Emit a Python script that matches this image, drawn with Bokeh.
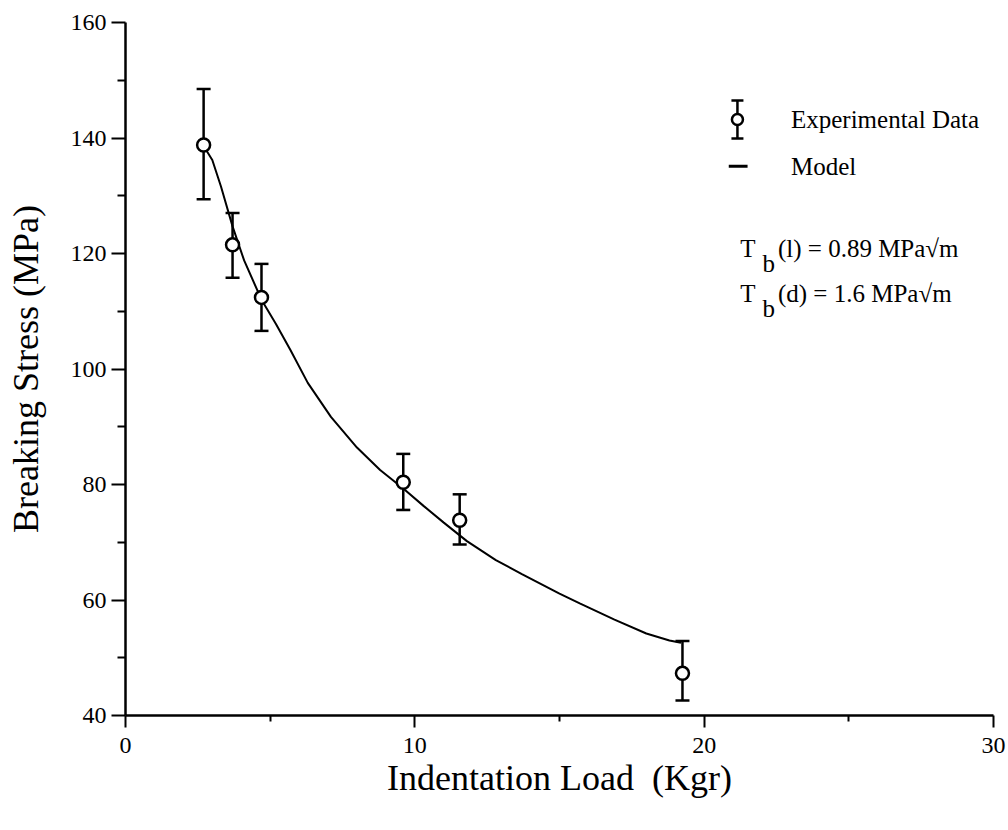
from bokeh.plotting import figure
from bokeh.models import Range1d, FixedTicker
from bokeh.core.properties import value
from bokeh.embed import file_html
from bokeh.resources import INLINE

# Measured breaking stress (MPa) against indentation load (Kgr), with error bars
load = [2.7, 3.7, 4.7, 9.6, 11.55, 19.25]
stress = [138.8, 121.5, 112.4, 80.4, 73.8, 47.3]
stress_hi = [148.5, 127.0, 118.2, 85.3, 78.3, 52.9]
stress_lo = [129.4, 115.8, 106.6, 75.6, 69.6, 42.6]

# Model curve
model_load = [2.7, 3.0, 3.3, 3.7, 4.1, 4.7, 5.2, 5.7, 6.3, 7.1, 8.0, 8.8,
              9.6, 10.3, 11.0, 11.8, 12.8, 13.7, 15.0, 15.7, 16.9, 18.0, 18.8, 19.2]
model_stress = [138.6, 136.2, 131.6, 124.7, 118.8, 112.0, 107.8, 103.3, 97.6, 91.7, 86.4, 82.5,
                79.3, 76.3, 73.4, 70.2, 66.9, 64.5, 61.1, 59.4, 56.6, 54.2, 53.0, 52.6]

x_ticks = [0, 10, 20, 30]
x_minor = [5, 15, 25]
y_ticks = [40, 60, 80, 100, 120, 140, 160]
y_minor = [50, 70, 90, 110, 130, 150]

legend_labels = ["Experimental Data", "Model"]
toughness_labels = [("T", "b", "(l) = 0.89 MPa\u221am"),
                    ("T", "b", "(d) = 1.6 MPa\u221am")]

FONT = "Liberation Serif"

p = figure(width=1008, height=830, output_backend="svg", toolbar_location=None,
           x_range=Range1d(0, 30), y_range=Range1d(40, 160),
           min_border_left=125, min_border_right=15, min_border_top=22, min_border_bottom=115)
p.outline_line_color = None
p.xgrid.visible = False
p.ygrid.visible = False
p.background_fill_color = "white"
p.border_fill_color = "white"

p.xaxis.ticker = FixedTicker(ticks=x_ticks, minor_ticks=x_minor)
p.yaxis.ticker = FixedTicker(ticks=y_ticks, minor_ticks=y_minor)
p.xaxis.axis_label = "Indentation Load\u00a0 (Kgr)"
p.yaxis.axis_label = "Breaking Stress (MPa)"
for ax in (p.xaxis, p.yaxis):
    ax.axis_line_width = 2.5
    ax.axis_line_color = "black"
    ax.major_tick_line_width = 2
    ax.minor_tick_line_width = 2
    ax.major_tick_line_color = "black"
    ax.minor_tick_line_color = "black"
    ax.major_tick_in = 0
    ax.minor_tick_in = 0
    ax.major_label_text_font = FONT
    ax.major_label_text_font_size = "24px"
    ax.major_label_text_color = "black"
    ax.axis_label_text_font = FONT
    ax.axis_label_text_font_size = "36px"
    ax.axis_label_text_font_style = "normal"
    ax.axis_label_text_color = "black"
p.xaxis.major_tick_out = 12
p.xaxis.minor_tick_out = 6
p.yaxis.major_tick_out = 14
p.yaxis.minor_tick_out = 8
p.xaxis.major_label_standoff = 10
p.xaxis.axis_label_standoff = 2
p.yaxis.major_label_standoff = 5
p.yaxis.axis_label_standoff = 22

# model curve
p.line(model_load, model_stress, line_color="black", line_width=2)

# error bars with caps, then open circles
p.segment(x0=load, y0=stress_lo, x1=load, y1=stress_hi, line_color="black", line_width=2.5)
p.scatter(load, stress_hi, marker="dash", size=14, line_color="black", line_width=2.5)
p.scatter(load, stress_lo, marker="dash", size=14, line_color="black", line_width=2.5)
p.scatter(load, stress, marker="circle", size=13, fill_color="white",
          line_color="black", line_width=2.5)

# legend drawn in data space
lx, ly_exp, ly_mod, l_half, tx = 21.15, 143.2, 135.1, 3.3, 23.0
p.segment(x0=[lx], y0=[ly_exp - l_half], x1=[lx], y1=[ly_exp + l_half],
          line_color="black", line_width=2.5)
p.scatter([lx, lx], [ly_exp - l_half, ly_exp + l_half], marker="dash", size=12,
          line_color="black", line_width=2.5)
p.scatter([lx], [ly_exp], marker="circle", size=11, fill_color="white",
          line_color="black", line_width=2.5)
p.segment(x0=[20.85], y0=[ly_mod], x1=[21.5], y1=[ly_mod], line_color="black", line_width=3)
p.text([tx, tx], [ly_exp, ly_mod], text=legend_labels, text_font=value(FONT),
       text_font_size="25px", text_baseline="middle", text_align="left", text_color="black")

# toughness annotations with subscript
row_y = [120.8, 113.0]
for (t, sub, rest), yy in zip(toughness_labels, row_y):
    p.text([21.25], [yy], text=[t], text_font=value(FONT), text_font_size="25px",
           text_baseline="middle", text_align="left", text_color="black")
    p.text([22.02], [yy - 2.5], text=[sub], text_font=value(FONT), text_font_size="25px",
           text_baseline="middle", text_align="left", text_color="black")
    p.text([22.55], [yy], text=[rest], text_font=value(FONT), text_font_size="25px",
           text_baseline="middle", text_align="left", text_color="black")

open("out.html", "w").write(file_html(p, INLINE))
